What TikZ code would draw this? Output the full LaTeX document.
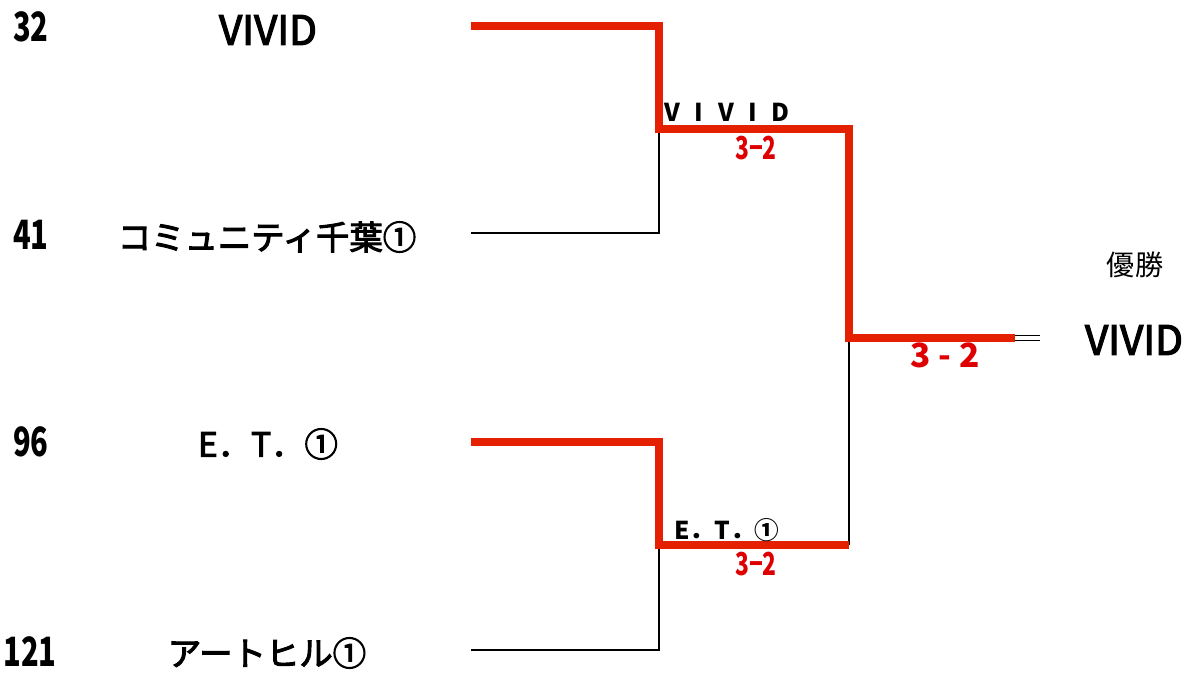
\documentclass[tikz,border=0pt]{standalone}
\usepackage{fontspec}
\setmainfont{Noto Sans CJK JP}
\newfontfamily\seedfont[FakeStretch=0.72]{Noto Sans CJK JP}
\newfontfamily\teamfont[FakeBold=3]{Noto Sans CJK JP}
\usetikzlibrary{positioning}
\definecolor{winred}{RGB}{228,32,0}
\definecolor{scorered}{RGB}{222,0,0}

\begin{document}
\begin{tikzpicture}[
        x=0.02cm, y=-0.02cm,
        seed/.style={font=\seedfont\bfseries\fontsize{23}{23}\selectfont},
        team/.style={font=\teamfont\fontsize{19}{19}\selectfont},
        latin/.style={font=\teamfont\fontsize{23}{23}\selectfont},
        semi/.style={font=\bfseries\fontsize{14}{14}\selectfont},
        score/.style={text=scorered, font=\seedfont\bfseries\fontsize{18}{18}\selectfont},
        win/.style={draw=winred, line width=4pt},
        lose/.style={draw=black, line width=0.6pt}
    ]
\useasboundingbox (0,0) rectangle (1191,678);

% Seeds
\node[seed] (s1) at (31,27)  {32};
\node[seed] (s2) at (31,235) {41};
\node[seed] (s3) at (31,442) {96};
\node[seed] (s4) at (30,652) {121};

% Team names
\node[latin] (n1) at (268,30)  {VIVID};
\node[team] (n2) at (267,237) {コミュニティ千葉①};
\node[team] (n3) at (268,444) {E．T．①};
\node[team] (n4) at (267,653) {アートヒル①};

% Bracket points
\coordinate (a1) at (471,26);
\coordinate (a2) at (471,233);
\coordinate (a3) at (471,442);
\coordinate (a4) at (471,650);
\coordinate (b1) at (659,26);
\coordinate (b2) at (659,233);
\coordinate (b3) at (659,442);
\coordinate (b4) at (659,650);
\coordinate (m1) at (659,129);
\coordinate (m2) at (659,545);
\coordinate (c1) at (849,129);
\coordinate (c2) at (849,545);
\coordinate (f)  at (849,338);
\coordinate (g)  at (1015,338);
\coordinate (h)  at (1040,338);

% Losing branches
\draw[lose] (a2) -- (b2) -- (m1);
\draw[lose] (a4) -- (b4) -- (m2);
\draw[lose] (f) -- (c2);

% Winning branches
\draw[win] (a1) -- (b1) -- (m1) -- (c1) -- (f) -- (g);
\draw[win] (a3) -- (b3) -- (m2) -- (c2);

% Final line to champion
\draw[double, double distance=2.5pt, line width=0.5pt] (g) -- (h);

% Semi-final results
\node[semi] (w1) at (727,112) {V\hspace{0.6em}I\hspace{0.6em}V\hspace{0.6em}I\hspace{0.6em}D};
\node[score] (r1) at (756,148) {3−2};
\node[semi] (w2) at (727,530) {E．T．①};
\node[score] (r2) at (756,564) {3−2};

% Final result
\node[score, font=\bfseries\fontsize{19}{19}\selectfont] (r0) at (945,355) {3 - 2};
\node[font=\fontsize{16}{16}\selectfont] (ch) at (1135,265) {優勝};
\node[latin] (wn) at (1134,340) {VIVID};
\end{tikzpicture}
\end{document}
